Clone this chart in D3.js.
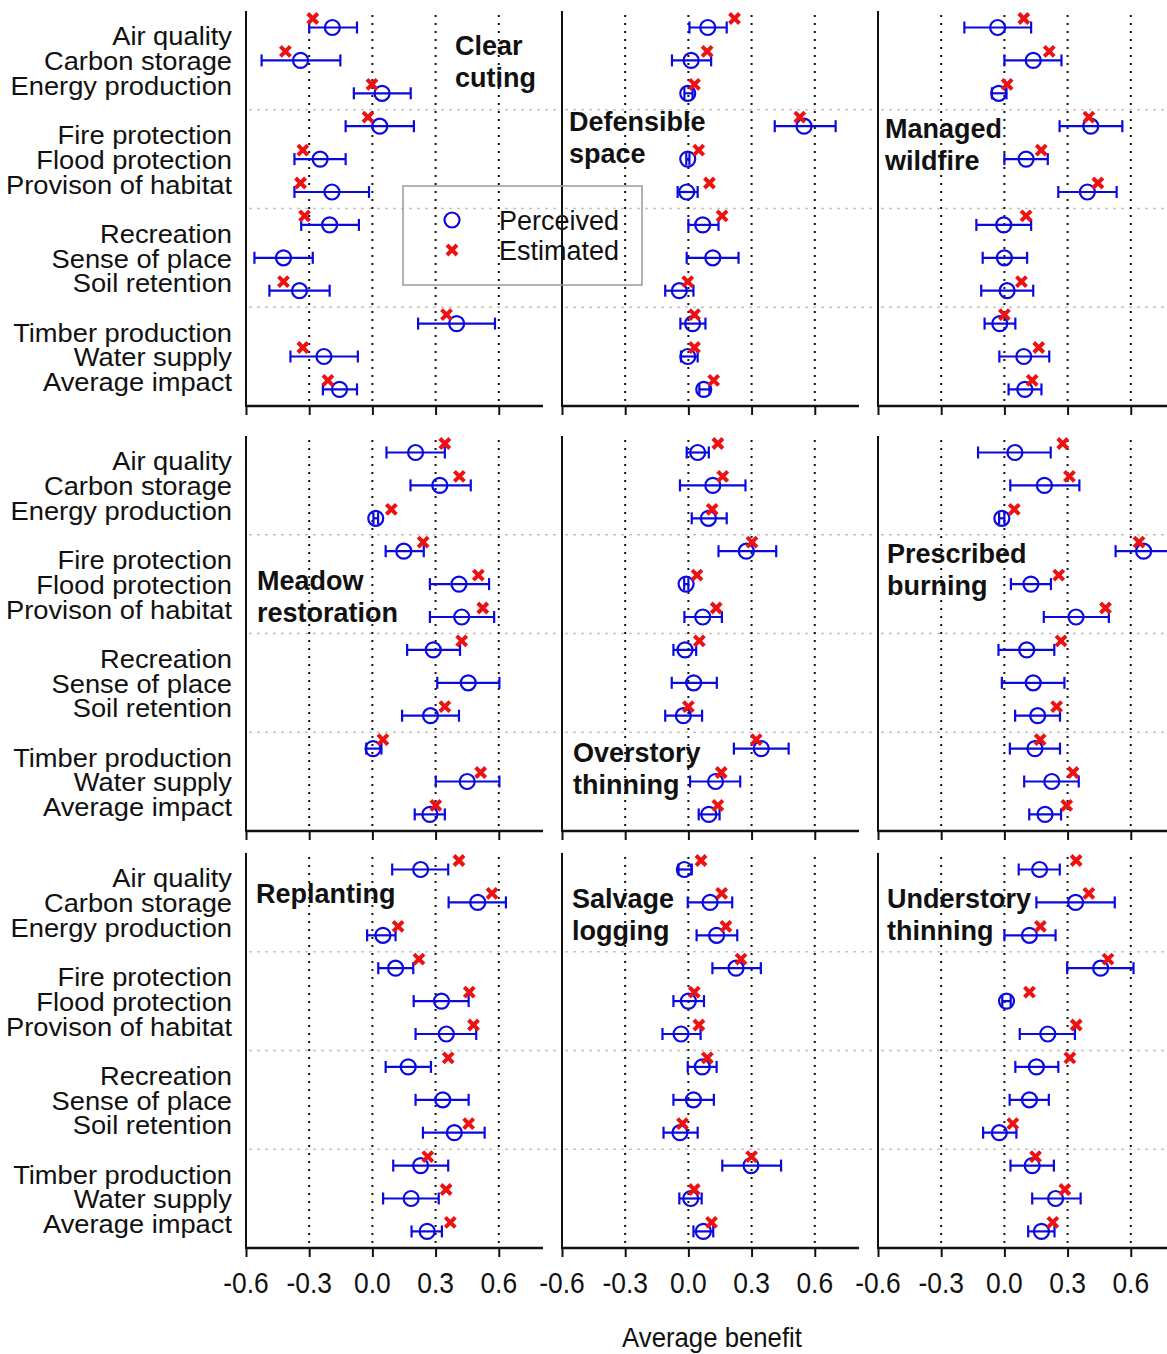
<!DOCTYPE html>
<html>
<head>
<meta charset="utf-8">
<script src="https://cdn.jsdelivr.net/npm/d3@7"></script>
<style>
  body { margin: 0; background: #fff; }
  svg { display: block; font-family: "Liberation Sans", Arial, sans-serif; }
</style>
</head>
<body>
<div id="chart"></div>
<script>
// services shown on the y axis (same for every panel)
var services = ["Air quality", "Carbon storage", "Energy production",
  "Fire protection", "Flood protection", "Provison of habitat",
  "Recreation", "Sense of place", "Soil retention",
  "Timber production", "Water supply", "Average impact"];

var ticks = [-0.6, -0.3, 0.0, 0.3, 0.6];
var tickLabels = ["-0.6", "-0.3", "0.0", "0.3", "0.6"];

// each row: [perceived mean, perceived low, perceived high, estimated]
var clearCuting = [
  [-0.19, -0.30, -0.073, -0.283], [-0.341, -0.526, -0.152, -0.413], [0.046, -0.088, 0.182, -0.002],
  [0.035, -0.127, 0.197, -0.021], [-0.248, -0.37, -0.127, -0.33], [-0.192, -0.37, -0.016, -0.341],
  [-0.203, -0.338, -0.064, -0.322], [-0.422, -0.56, -0.283, null], [-0.346, -0.489, -0.203, -0.422],
  [0.40, 0.217, 0.582, 0.352], [-0.23, -0.389, -0.069, -0.33], [-0.156, -0.235, -0.073, -0.211]];
var defensibleSpace = [
  [0.092, 0.005, 0.182, 0.219], [0.013, -0.078, 0.108, 0.089], [-0.003, -0.019, 0.02, 0.029],
  [0.549, 0.41, 0.699, 0.529], [-0.003, -0.01, 0.005, 0.049], [-0.008, -0.051, 0.044, 0.10],
  [0.068, 0.0, 0.143, 0.16], [0.116, -0.008, 0.238, null], [-0.043, -0.11, 0.024, -0.003],
  [0.02, -0.038, 0.081, 0.029], [-0.003, -0.035, 0.044, 0.029], [0.073, 0.052, 0.10, 0.12]];
var managedWildfire = [
  [-0.032, -0.19, 0.127, 0.092], [0.137, 0.0, 0.271, 0.213], [-0.027, -0.059, 0.01, 0.013],
  [0.41, 0.262, 0.56, 0.401], [0.103, 0.0, 0.206, 0.175], [0.394, 0.256, 0.533, 0.444],
  [-0.003, -0.133, 0.127, 0.103], [0.0, -0.103, 0.108, null], [0.013, -0.11, 0.137, 0.081],
  [-0.022, -0.094, 0.052, 0.0], [0.092, -0.024, 0.213, 0.163], [0.097, 0.02, 0.176, 0.132]];
var meadowRestoration = [
  [0.205, 0.067, 0.344, 0.344], [0.32, 0.181, 0.467, 0.413], [0.016, 0.005, 0.027, 0.09],
  [0.149, 0.063, 0.244, 0.241], [0.411, 0.273, 0.554, 0.503], [0.424, 0.273, 0.578, 0.524],
  [0.289, 0.165, 0.416, 0.424], [0.455, 0.308, 0.603, null], [0.276, 0.141, 0.411, 0.344],
  [0.003, -0.029, 0.043, 0.05], [0.45, 0.301, 0.603, 0.514], [0.273, 0.201, 0.344, 0.301]];
var overstoryThinning = [
  [0.044, -0.008, 0.097, 0.14], [0.116, -0.04, 0.271, 0.163], [0.095, 0.016, 0.182, 0.113],
  [0.275, 0.143, 0.417, 0.302], [-0.011, -0.02, 0.0, 0.041], [0.068, -0.019, 0.159, 0.132],
  [-0.016, -0.071, 0.037, 0.052], [0.025, -0.079, 0.135, null], [-0.024, -0.11, 0.065, 0.0],
  [0.346, 0.216, 0.476, 0.322], [0.129, 0.008, 0.246, 0.156], [0.097, 0.049, 0.148, 0.14]];
var prescribedBurning = [
  [0.05, -0.125, 0.22, 0.277], [0.19, 0.028, 0.356, 0.309], [-0.012, -0.025, 0.0, 0.047],
  [0.661, 0.528, 0.80, 0.639], [0.126, 0.031, 0.221, 0.258], [0.34, 0.187, 0.496, 0.48],
  [0.106, -0.028, 0.237, 0.269], [0.137, -0.012, 0.285, null], [0.158, 0.051, 0.264, 0.248],
  [0.145, 0.026, 0.264, 0.17], [0.225, 0.094, 0.353, 0.326], [0.193, 0.118, 0.269, 0.296]];
var replanting = [
  [0.229, 0.094, 0.36, 0.411], [0.5, 0.362, 0.634, 0.568], [0.05, -0.025, 0.11, 0.122],
  [0.11, 0.028, 0.194, 0.221], [0.328, 0.196, 0.457, 0.46], [0.351, 0.205, 0.493, 0.48],
  [0.17, 0.063, 0.278, 0.36], [0.334, 0.205, 0.457, null], [0.389, 0.24, 0.533, 0.457],
  [0.229, 0.099, 0.36, 0.263], [0.184, 0.051, 0.315, 0.35], [0.26, 0.186, 0.33, 0.37]];
var salvageLogging = [
  [-0.019, -0.047, 0.016, 0.06], [0.103, -0.003, 0.208, 0.158], [0.134, 0.039, 0.232, 0.178],
  [0.226, 0.114, 0.344, 0.25], [0.0, -0.071, 0.074, 0.028], [-0.035, -0.123, 0.058, 0.05],
  [0.066, -0.003, 0.134, 0.09], [0.024, -0.071, 0.121, null], [-0.04, -0.118, 0.044, -0.028],
  [0.297, 0.161, 0.44, 0.3], [0.011, -0.043, 0.063, 0.028], [0.071, 0.024, 0.118, 0.11]];
var understoryThinning = [
  [0.167, 0.068, 0.263, 0.341], [0.338, 0.152, 0.524, 0.401], [0.119, 0.0, 0.243, 0.171],
  [0.457, 0.298, 0.613, 0.492], [0.01, -0.01, 0.03, 0.119], [0.206, 0.073, 0.335, 0.341],
  [0.152, 0.052, 0.256, 0.311], [0.119, 0.025, 0.211, null], [-0.024, -0.101, 0.057, 0.04],
  [0.132, 0.029, 0.235, 0.148], [0.243, 0.132, 0.362, 0.287], [0.176, 0.113, 0.238, 0.23]];

var titles = [["Clear", "cuting"], ["Defensible", "space"], ["Managed", "wildfire"],
  ["Meadow", "restoration"], ["Overstory", "thinning"], ["Prescribed", "burning"],
  ["Replanting"], ["Salvage", "logging"], ["Understory", "thinning"]];
var panelData = [clearCuting, defensibleSpace, managedWildfire,
  meadowRestoration, overstoryThinning, prescribedBurning,
  replanting, salvageLogging, understoryThinning];

// layout
var W = 1167, H = 1354;
var colLeft = [246, 562, 878];
var rowTop = [11, 436, 853];
var panelH = 395, axisW = 297;
var rowStep = 32.9, firstRow = 16.5, labelStep = 24.7;
// title placement: [dx from panel left, baseline of first line]
var titlePos = [[209, 55], [7, 131], [7, 138], [11, 590], [11, 762], [9, 563], [10, 903], [10, 908], [9, 908]];

var blue = "#0a0ae0", red = "#ee1111";

var svg = d3.select("#chart").append("svg")
    .attr("width", W).attr("height", H);

panelData.forEach(function(rows, i) {
  var col = i % 3, row = Math.floor(i / 3);
  var left = colLeft[col], top = rowTop[row];
  var x = d3.scaleLinear().domain([-0.6, 0.81]).range([left, left + axisW]);
  var y = d3.scalePoint().domain(services)
      .range([top + firstRow, top + firstRow + 11 * rowStep]);
  var bottom = top + panelH;
  var g = svg.append("g");

  // group separators
  [2, 5, 8].forEach(function(k) {
    var yy = (y(services[k]) + y(services[k + 1])) / 2;
    g.append("line")
      .attr("x1", left + 3).attr("x2", left + 316)
      .attr("y1", yy).attr("y2", yy)
      .style("stroke", "#c4c4c4").style("stroke-width", 1.5)
      .style("stroke-dasharray", "3,5");
  });

  // reference dotted lines
  g.selectAll(".ref").data(ticks.slice(1)).enter().append("line")
    .attr("x1", x).attr("x2", x)
    .attr("y1", top + 4).attr("y2", bottom)
    .style("stroke", "#111").style("stroke-width", 2)
    .style("stroke-dasharray", "2,6");

  // axes
  g.append("line").attr("x1", left).attr("x2", left)
    .attr("y1", top).attr("y2", bottom + 1)
    .style("stroke", "#111").style("stroke-width", 2);
  var xAxis = d3.axisBottom(x).tickValues(ticks).tickSize(9).tickFormat("");
  var ax = g.append("g").attr("transform", "translate(0," + bottom + ")").call(xAxis);
  ax.select(".domain").attr("d", "M" + left + ",0H" + (left + axisW))
    .style("stroke", "#111").style("stroke-width", 2.5);
  ax.selectAll(".tick line").style("stroke", "#111").style("stroke-width", 2);

  if (row === 2) {
    ticks.forEach(function(t, n) {
      svg.append("text")
        .attr("transform", "translate(" + x(t) + "," + (bottom + 45) + ") scale(0.88,1)")
        .attr("text-anchor", "middle")
        .style("font-size", "30px").style("fill", "#111")
        .text(tickLabels[n]);
    });
  }

  // y labels (only first column), grouped in threes around the middle row
  if (col === 0) {
    services.forEach(function(s, k) {
      var mid = y(services[Math.floor(k / 3) * 3 + 1]);
      svg.append("text")
        .attr("transform", "translate(232," + (mid + (k % 3 - 1) * labelStep + 1) + ") scale(1.05,1)")
        .attr("text-anchor", "end").attr("dominant-baseline", "central")
        .style("font-size", "26px").style("fill", "#111")
        .text(s);
    });
  }

  // error bars
  var pts = g.selectAll(".pt").data(rows).enter().append("g");
  pts.append("line")
    .attr("x1", function(d) { return x(d[1]); })
    .attr("x2", function(d) { return x(d[2]); })
    .attr("y1", function(d, k) { return y(services[k]); })
    .attr("y2", function(d, k) { return y(services[k]); })
    .style("stroke", blue).style("stroke-width", 2.2);
  [1, 2].forEach(function(j) {
    pts.append("line")
      .attr("x1", function(d) { return x(d[j]); })
      .attr("x2", function(d) { return x(d[j]); })
      .attr("y1", function(d, k) { return y(services[k]) - 6; })
      .attr("y2", function(d, k) { return y(services[k]) + 6; })
      .style("stroke", blue).style("stroke-width", 2.2);
  });
  pts.append("circle")
    .attr("cx", function(d) { return x(d[0]); })
    .attr("cy", function(d, k) { return y(services[k]); })
    .attr("r", 7.5)
    .style("fill", "none").style("stroke", blue).style("stroke-width", 2.2);

  // estimated crosses
  pts.filter(function(d) { return d[3] !== null; }).append("path")
    .attr("d", function(d) {
      var k = rows.indexOf(d);
      var cx = x(d[3]), cy = y(services[k]) - 9, s = 5;
      return "M" + (cx - s) + "," + (cy - s) + "L" + (cx + s) + "," + (cy + s) +
             "M" + (cx - s) + "," + (cy + s) + "L" + (cx + s) + "," + (cy - s);
    })
    .style("stroke", red).style("stroke-width", 4).style("fill", "none");

  // panel title
  titles[i].forEach(function(t, n) {
    svg.append("text")
      .attr("x", left + titlePos[i][0]).attr("y", titlePos[i][1] + n * 31.5)
      .style("font-size", "27px").style("font-weight", "bold").style("fill", "#111")
      .text(t);
  });
});

// legend
var leg = svg.append("g");
leg.append("rect").attr("x", 403).attr("y", 186).attr("width", 239).attr("height", 99)
  .style("fill", "none").style("stroke", "#999").style("stroke-width", 1.5);
leg.append("circle").attr("cx", 452).attr("cy", 220).attr("r", 7.5)
  .style("fill", "none").style("stroke", blue).style("stroke-width", 2.2);
leg.append("path").attr("d", "M447,245L457,255M447,255L457,245")
  .style("stroke", red).style("stroke-width", 4);
leg.append("text").attr("x", 499).attr("y", 221).attr("dominant-baseline", "central")
  .style("font-size", "27px").style("fill", "#111").text("Perceived");
leg.append("text").attr("x", 499).attr("y", 251).attr("dominant-baseline", "central")
  .style("font-size", "27px").style("fill", "#111").text("Estimated");

// x axis title
svg.append("text")
  .attr("transform", "translate(712,1347) scale(0.92,1)")
  .attr("text-anchor", "middle")
  .style("font-size", "28px").style("fill", "#111")
  .text("Average benefit");
</script>
</body>
</html>
